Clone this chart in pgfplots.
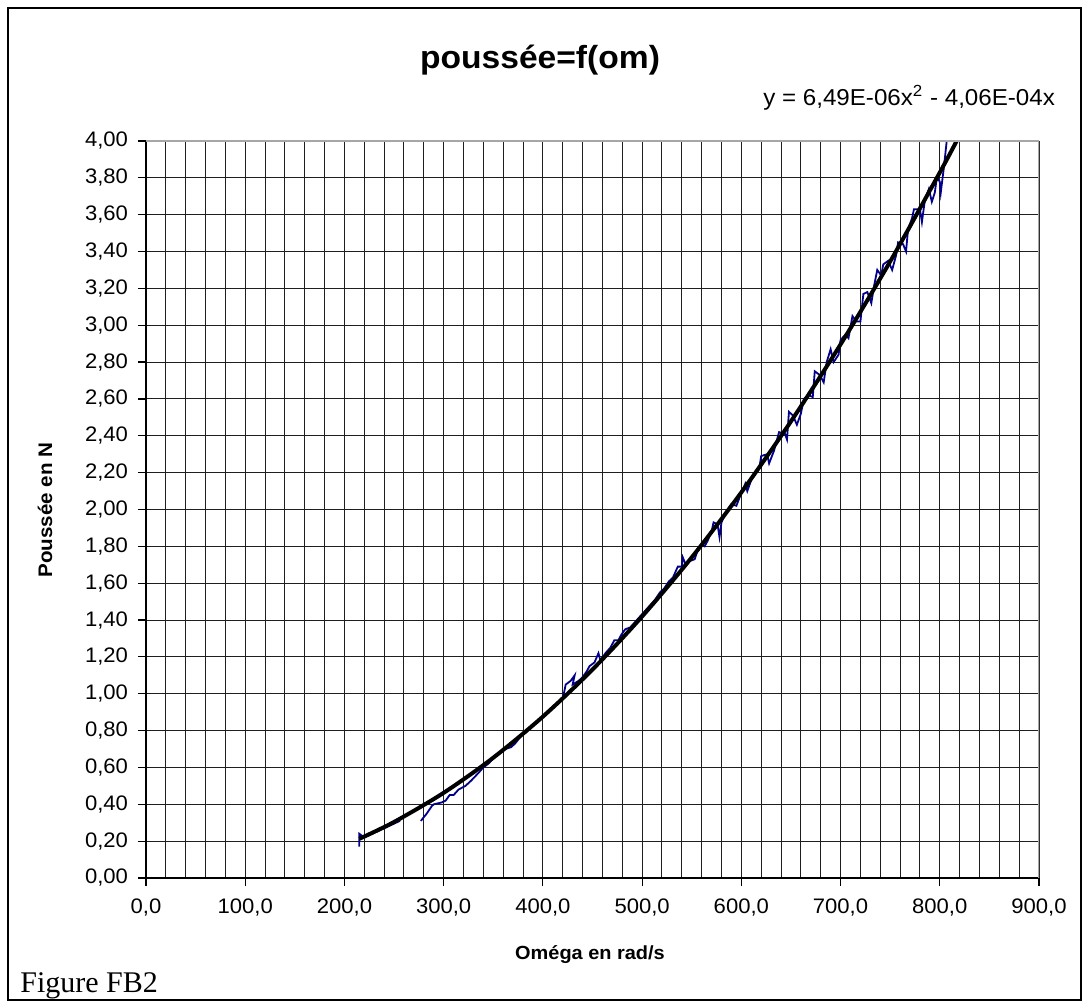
\documentclass[border=0pt]{standalone}
\usepackage{fontspec}
\setmainfont{Liberation Sans}[FakeStretch=1.05]
\newfontfamily\timesf{Liberation Serif}
\usepackage{pgfplots}
\pgfplotsset{compat=1.18}
\definecolor{navyblue}{RGB}{0,0,140}
\definecolor{gridc}{RGB}{30,30,30}
\begin{document}
\begin{tikzpicture}[x=1pt,y=1pt]
\useasboundingbox (0,0) rectangle (541.5,500.5);
\fill[white] (0,0) rectangle (541.5,500.5);
\draw[black, line width=0.6pt] (4,0.5) rectangle (540.5,496.5);
\begin{axis}[
  at={(73pt,61.5pt)}, anchor=south west,
  scale only axis, width=446.5pt, height=368.5pt,
  xmin=0, xmax=900, ymin=0, ymax=4,
  xtick distance=100, minor x tick num=4,
  ytick distance=0.2,
  grid=both,
  major grid style={gridc, line width=0.5pt},
  minor grid style={gridc, line width=0.5pt},
  axis x line*=bottom, axis y line*=left,
  axis line style={black, line width=0.9pt, -},
  tick align=outside, major tick length=4pt, minor tick length=0pt,
  tick style={black, line width=0.6pt},
  /pgf/number format/assume math mode=true,
  xticklabel style={/pgf/number format/.cd, use comma, fixed, fixed zerofill, precision=1, 1000 sep={}},
  yticklabel style={/pgf/number format/.cd, use comma, fixed, fixed zerofill, precision=2},
  ticklabel style={font=\fontsize{10.5}{12}\selectfont},
  xticklabel shift=3pt, yticklabel shift=1.5pt,
  clip=true,
]
\addplot[navyblue, line width=0.9pt] coordinates {
(215,0.17)(215,0.24)(220,0.22)(228,0.24)(240,0.27)(252,0.30)(256,0.31)
};
\addplot[navyblue, line width=0.9pt] coordinates {
(277,0.31)(283,0.35)(288,0.39)(290,0.40)(298,0.41)(302,0.42)(306,0.45)(310,0.45)(315,0.48)(322,0.50)(328,0.53)(335,0.57)(340,0.60)(345,0.62)(352,0.66)(358,0.69)(362,0.70)(368,0.71)(372,0.73)(378,0.77)(383,0.79)(388,0.82)(392,0.84)(397,0.86)(402,0.88)(405,0.90)(410,0.93)(415,0.95)(420,0.97)(423,1.05)(428,1.07)(432,1.10)(430,1.05)(436,1.07)(440,1.09)(444,1.12)(447,1.15)(452,1.17)(456,1.22)(458,1.18)(463,1.22)(468,1.25)(472,1.29)(476,1.29)(479,1.32)(483,1.35)(488,1.36)(493,1.39)(498,1.42)(503,1.45)(508,1.48)(513,1.51)(518,1.55)(522,1.57)(527,1.61)(531,1.63)(536,1.69)(540,1.69)(541,1.74)(544,1.70)(548,1.72)(553,1.73)(556,1.78)(560,1.81)(563,1.80)(566,1.83)(570,1.88)(572,1.93)(576,1.92)(578,1.85)(580,1.93)(585,1.99)(590,2.03)(595,2.02)
(600,2.09)(604,2.14)(606,2.10)(612,2.19)(618,2.22)(620,2.29)(626,2.30)(628,2.25)(633,2.32)(638,2.42)(644,2.41)(646,2.38)(648,2.53)(652,2.51)(656,2.46)(660,2.52)(663,2.60)(668,2.62)(672,2.61)(674,2.75)(679,2.73)(683,2.69)(686,2.80)(690,2.87)(693,2.80)(698,2.84)(700,2.92)(705,2.95)(708,2.93)(712,3.05)(716,3.02)(720,3.02)(723,3.17)(727,3.18)(731,3.12)(734,3.22)(737,3.30)(741,3.27)(743,3.33)(748,3.35)(752,3.30)(756,3.38)(758,3.45)(763,3.44)(766,3.40)(768,3.52)(772,3.58)(774,3.63)(780,3.63)(782,3.56)(785,3.68)(789,3.74)(792,3.67)(795,3.72)(797,3.80)(800,3.78)(801,3.72)(804,3.85)(806,3.95)(808,4.05)
};
\addplot[black, line width=2pt, smooth] coordinates {
(215,0.2127)(250,0.3041)(300,0.4623)(350,0.6529)(400,0.8760)(450,1.1315)(500,1.4195)(550,1.7399)(600,2.0928)(650,2.4781)(700,2.8959)(750,3.3461)(800,3.8288)(820,4.0310)
};
\draw[gray!70, line width=0.9pt] (rel axis cs:0,1) -- (rel axis cs:1,1) -- (rel axis cs:1,0);
\end{axis}
\node[font=\fontsize{16}{18}\selectfont\bfseries] at (270,470.5) {poussée=f(om)};
\node[anchor=east, font=\fontsize{11.5}{13}\selectfont] at (531,451.5) {y = 6,49E-06x\textsuperscript{2} - 4,06E-04x};
\node[rotate=90, font=\fontsize{9.8}{11}\selectfont\bfseries] at (22.5,245.5) {Poussée en N};
\node[font=\fontsize{9.5}{11}\selectfont\bfseries] at (295,23) {Oméga en rad/s};
\node[anchor=west, font=\timesf\fontsize{15}{17}\selectfont, inner sep=0pt] at (10,7.5) {Figure FB2};
\end{tikzpicture}
\end{document}
